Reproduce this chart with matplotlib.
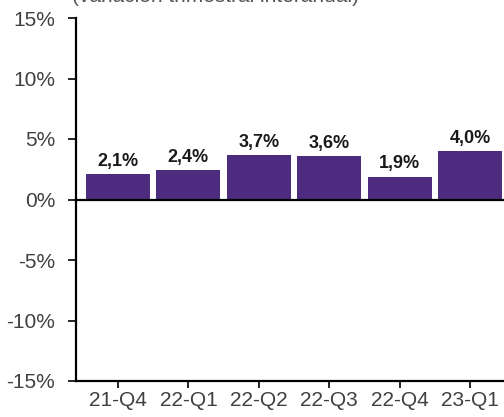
import matplotlib.pyplot as plt

plt.rcParams['font.family'] = ['Liberation Sans', 'DejaVu Sans']

trimestres = ["21-Q4", "22-Q1", "22-Q2", "22-Q3", "22-Q4", "23-Q1"]
variacion = [2.1, 2.4, 3.7, 3.6, 1.9, 4.0]
etiquetas = ["2,1%", "2,4%", "3,7%", "3,6%", "1,9%", "4,0%"]
yticks = [-15, -10, -5, 0, 5, 10, 15]
ytick_labels = ["-15%", "-10%", "-5%", "0%", "5%", "10%", "15%"]

color_barra = "#4d2c80"
gris = "#404040"

fig = plt.figure(figsize=(5.04, 4.17), dpi=100)
ax = fig.add_axes([76/504, 36/417, 1 - 76/504, (381 - 18)/417])

x = list(range(len(trimestres)))
barras = ax.bar(x, variacion, width=0.91, color=color_barra, zorder=2)
for b, txt in zip(barras, etiquetas):
    ax.annotate(txt, (b.get_x() + b.get_width()/2, b.get_height()),
                xytext=(0, 3), textcoords="offset points",
                ha="center", va="bottom", fontsize=13, fontweight="bold", color="#1a1a1a")

ax.axhline(0, color="black", lw=1.6, zorder=3)

ax.set_xlim(-0.597, 5.483)
ax.set_ylim(-15, 15)
ax.set_xticks(x)
ax.set_xticklabels(trimestres)
ax.set_yticks(yticks)
ax.set_yticklabels(ytick_labels)

ax.tick_params(axis="y", length=6, width=1.2, pad=9, labelsize=15, labelcolor=gris)
ax.tick_params(axis="x", length=5, width=1.2, pad=2, labelsize=15, labelcolor=gris)

for s in ["top", "right"]:
    ax.spines[s].set_visible(False)
for s in ["left", "bottom"]:
    ax.spines[s].set_linewidth(1.6)
    ax.spines[s].set_color("black")

fig.text(215/504, 1 + 4/417, "(variación trimestral interanual)",
         ha="center", va="center", fontsize=15, color="#555555")

fig.savefig("out.png", dpi=100)
